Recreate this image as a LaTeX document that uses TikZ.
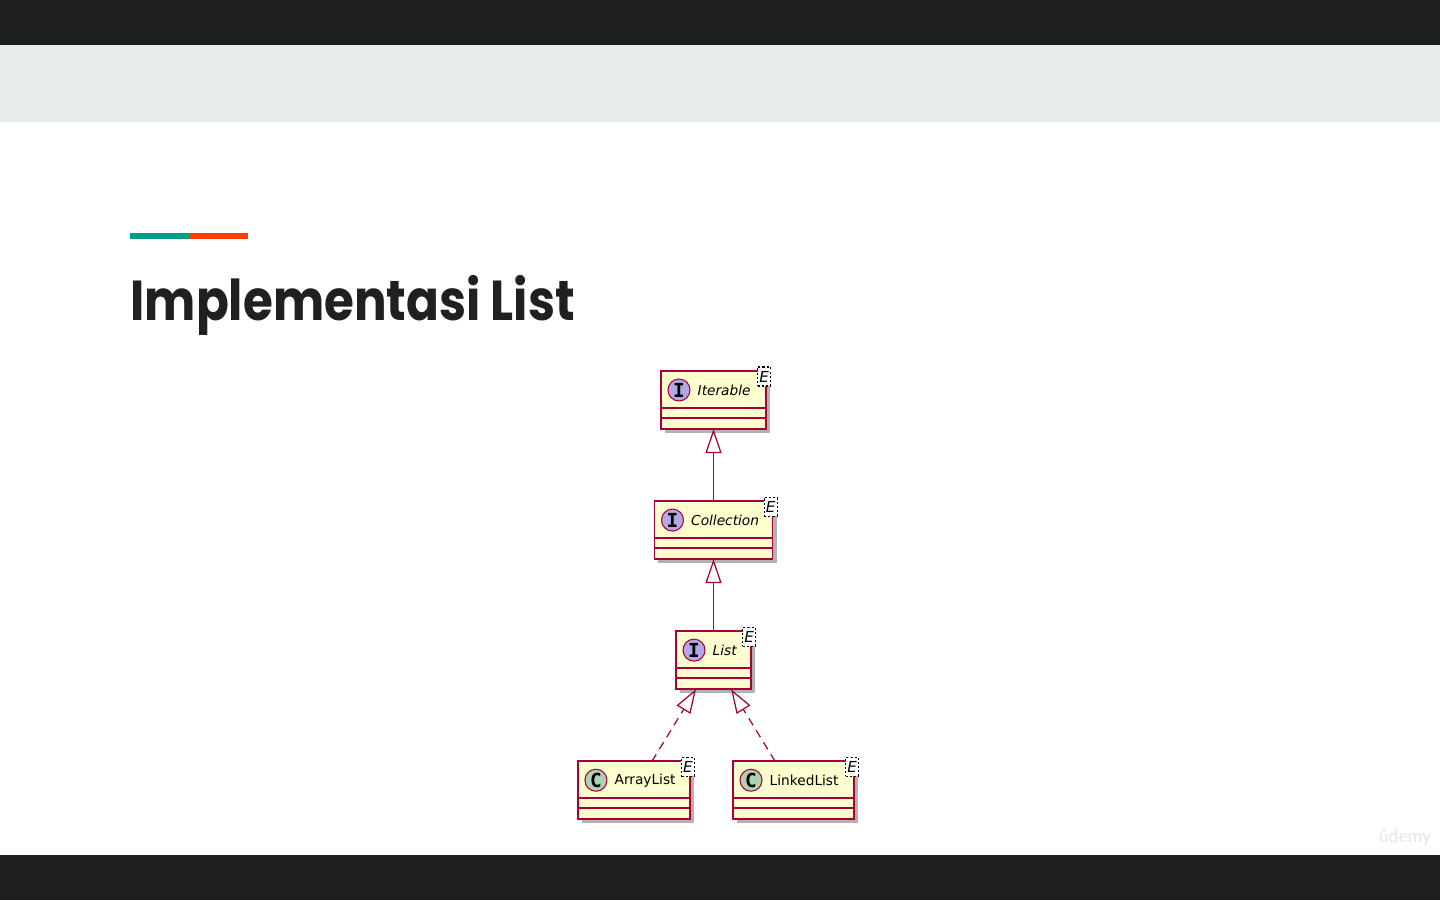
\documentclass[tikz,border=0pt]{standalone}
\usepackage{fontspec}
\setmainfont{DejaVu Sans}
\newfontfamily\titlefont{Poppins}
\newfontfamily\spotfont{DejaVu Sans Mono}
\newfontfamily\markfont{Lato}
\usetikzlibrary{positioning,arrows.meta,shadows}
\definecolor{umlred}{HTML}{A80036}
\definecolor{umlfill}{HTML}{FEFECE}
\definecolor{ifill}{HTML}{B4A7E5}
\definecolor{cfill}{HTML}{ADD1B2}
\definecolor{darkbar}{HTML}{1E1F21}
\definecolor{lightband}{HTML}{E6ECEB}
\definecolor{accentteal}{HTML}{009E8B}
\definecolor{accentorange}{HTML}{FF3D00}
\definecolor{titlegray}{HTML}{202020}
\begin{document}
\begin{tikzpicture}[x=0.01cm, y=-0.01cm,
    umlclass/.style={rectangle, draw=umlred, fill=umlfill, line width=0.45pt, minimum height=0.58cm, inner sep=0pt, outer sep=0pt,
      drop shadow={shadow xshift=0.04cm, shadow yshift=-0.04cm, fill=black, opacity=0.3}},
    spot/.style={circle, draw=umlred, line width=0.3pt, minimum size=0.22cm, inner sep=0pt, font=\spotfont\bfseries\fontsize{5.5}{6}\selectfont},
    classname/.style={anchor=west, inner sep=0pt, font=\fontsize{3.9}{4.5}\selectfont},
    generic/.style={draw=black, fill=white, dash pattern=on 0.6pt off 0.6pt, line width=0.3pt, minimum width=0.13cm, minimum height=0.19cm, inner sep=0pt, font=\fontsize{4.3}{4.8}\selectfont},
    umlline/.style={draw=umlred, line width=0.45pt},
    extends/.style={draw=umlred, line width=0.35pt, -{Triangle[open, length=0.24cm, width=0.16cm]}},
    implements/.style={extends, dash pattern=on 2.3pt off 1.7pt}
  ]
  \useasboundingbox (0,0) rectangle (1440,900);
  % Slide background
  \fill[white] (0,0) rectangle (1440,900);
  \fill[darkbar] (0,0) rectangle (1440,45);
  \fill[lightband] (0,45) rectangle (1440,122);
  \fill[darkbar] (0,855) rectangle (1440,900);

  % Title with accent bar
  \fill[accentteal] (130,233) rectangle (190,239);
  \fill[accentorange] (190,233) rectangle (248,239);
  \node[anchor=base west, inner sep=0pt, xscale=0.86, transform shape, text=titlegray, font=\titlefont\bfseries\fontsize{16}{19}\selectfont] (title) at (130,320) {Implementasi List};

  % Interfaces
  \node[umlclass, minimum width=1.05cm] (iterable) at (713.5,400) {};
  \node[umlclass, minimum width=1.18cm, below=0.72cm of iterable] (collection) {};
  \node[umlclass, minimum width=0.75cm, below=0.72cm of collection] (list) {};

  % Classes
  \node[umlclass, minimum width=1.12cm, below=0.72cm of list, xshift=-0.795cm] (arraylist) {};
  \node[umlclass, minimum width=1.21cm, below=0.72cm of list, xshift=0.8cm] (linkedlist) {};

  % Headers and compartments
  \foreach \n/\l/\c/\t in {iterable/I/ifill/\textit{Iterable}, collection/I/ifill/\textit{Collection}, list/I/ifill/\textit{List}, arraylist/C/cfill/ArrayList, linkedlist/C/cfill/LinkedList} {
    \node[spot, fill=\c] (\n-spot) at ([xshift=0.18cm, yshift=-0.19cm]\n.north west) {\l};
    \node[classname] (\n-name) at ([xshift=0.36cm, yshift=-0.19cm]\n.north west) {\t};
    \node[generic] (\n-e) at ([xshift=-0.02cm, yshift=-0.055cm]\n.north east) {\textit{E}};
    \draw[umlline] ([yshift=0.21cm]\n.south west) -- ([yshift=0.21cm]\n.south east);
    \draw[umlline] ([yshift=0.11cm]\n.south west) -- ([yshift=0.11cm]\n.south east);
  }

  % Arrows
  \draw[extends] (collection.north) -- (iterable.south);
  \draw[extends] (list.north) -- (collection.south);
  \draw[implements] ([xshift=0.18cm]arraylist.north) -- ([xshift=-0.175cm]list.south);
  \draw[implements] ([xshift=-0.185cm]linkedlist.north) -- ([xshift=0.175cm]list.south);

  % Watermark
  \node[text=black!10, font=\markfont\fontsize{5}{6}\selectfont] (mark) at (1405,838) {ûdemy};
\end{tikzpicture}
\end{document}
